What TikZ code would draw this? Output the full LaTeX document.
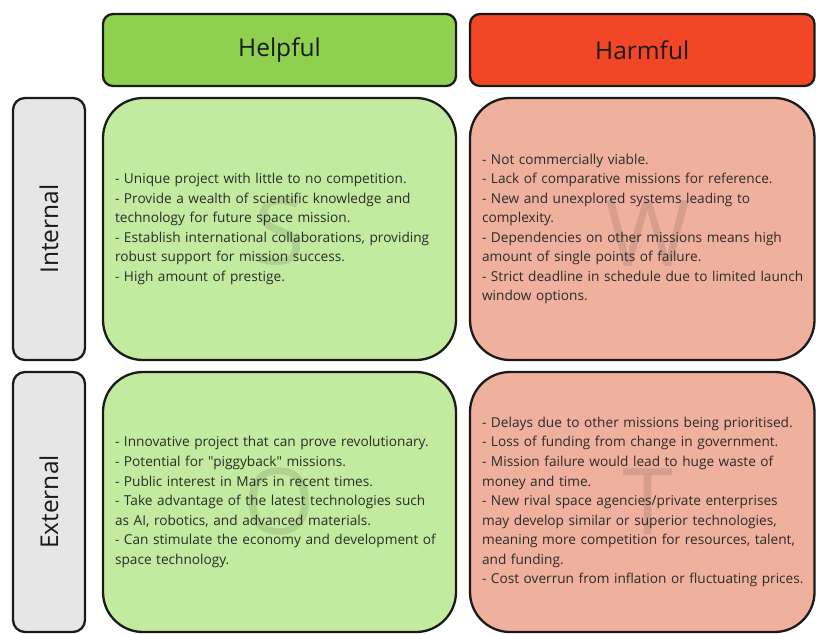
\documentclass[tikz,border=0pt]{standalone}
\usepackage{fontspec}
\setmainfont{Open Sans}[Ligatures=TeXOff]
\definecolor{edge}{HTML}{1A1A1A}
\definecolor{ink}{HTML}{2B2B2B}
\definecolor{goodhead}{HTML}{8FD14F}
\definecolor{badhead}{HTML}{F24726}
\definecolor{goodfill}{HTML}{C3EBA0}
\definecolor{badfill}{HTML}{EFB09E}
\definecolor{sidefill}{HTML}{E6E6E6}
\begin{document}
\begin{tikzpicture}[x=1pt,y=-1pt,
  panel/.style={draw=edge, line width=2.3pt, rounded corners=#1, inner sep=0pt},
  header/.style={panel=10pt, minimum height=72pt, text=edge,
    font=\fontsize{24.5}{28}\selectfont},
  side/.style={panel=12pt, fill=sidefill, rotate=90, minimum height=72pt,
    text=edge, font=\fontsize{24.5}{28}\selectfont},
  quad/.style={panel=40pt},
  bigletter/.style={text=black, opacity=0.1, font=\fontsize{92}{100}\selectfont},
  body/.style={text=ink, align=left, inner sep=0pt, text width=345pt, anchor=west,
    font=\fontsize{13.65}{19.55}\selectfont},
]
\useasboundingbox (0,0) rectangle (816,633);

% column headers
\node[header, fill=goodhead, minimum width=353pt] (helpful) at (279.5,50) {Helpful};
\node[header, fill=badhead, minimum width=344.5pt] (harmful) at (642.25,50) {Harmful};

% row labels
\node[side, minimum width=262pt] (internal) at (49,229) {Internal};
\node[side, minimum width=260pt] (external) at (49,502) {External};

% quadrant boxes
\node[quad, fill=goodfill, minimum width=353pt, minimum height=262pt] (sbox) at (279.5,229) {};
\node[quad, fill=badfill, minimum width=344.5pt, minimum height=262pt] (wbox) at (642.25,229) {};
\node[quad, fill=goodfill, minimum width=353pt, minimum height=260pt] (obox) at (279.5,502) {};
\node[quad, fill=badfill, minimum width=344.5pt, minimum height=260pt] (tbox) at (642.25,502) {};

% faint quadrant letters
\node[bigletter] (sletter) at ([yshift=-3pt]sbox.center) {S};
\node[bigletter] (wletter) at ([xshift=6pt,yshift=-5pt]wbox.center) {W};
\node[bigletter] (oletter) at (obox.center) {O};
\node[bigletter] (tletter) at ([xshift=6pt]tbox.center) {T};

% quadrant texts
\node[body] (stext) at ([xshift=13pt]sbox.west) {%
- Unique project with little to no competition.\\
- Provide a wealth of scientific knowledge and\\
technology for future space mission.\\
- Establish international collaborations, providing\\
robust support for mission success.\\
- High amount of prestige.};

\node[body] (wtext) at ([xshift=13pt]wbox.west) {%
- Not commercially viable.\\
- Lack of comparative missions for reference.\\
- New and unexplored systems leading to\\
complexity.\\
- Dependencies on other missions means high\\
amount of single points of failure.\\
- Strict deadline in schedule due to limited launch\\
window options.};

\node[body] (otext) at ([xshift=13pt]obox.west) {%
- Innovative project that can prove revolutionary.\\
- Potential for "piggyback" missions.\\
- Public interest in Mars in recent times.\\
- Take advantage of the latest technologies such\\
as AI, robotics, and advanced materials.\\
- Can stimulate the economy and development of\\
space technology.};

\node[body] (ttext) at ([xshift=13pt]tbox.west) {%
- Delays due to other missions being prioritised.\\
- Loss of funding from change in government.\\
- Mission failure would lead to huge waste of\\
money and time.\\
- New rival space agencies/private enterprises\\
may develop similar or superior technologies,\\
meaning more competition for resources, talent,\\
and funding.\\
- Cost overrun from inflation or fluctuating prices.};
\end{tikzpicture}
\end{document}
